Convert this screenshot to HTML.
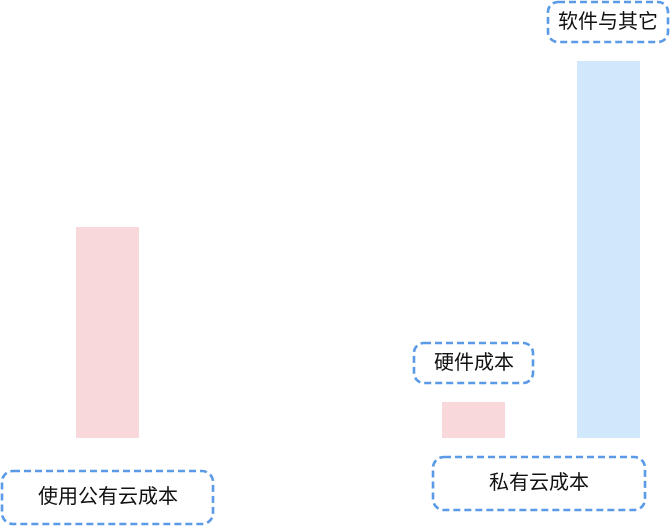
<!DOCTYPE html>
<html><head><meta charset="utf-8"><style>
body{margin:0;width:670px;height:526px;background:#fff;overflow:hidden}
svg text{font-family:"Liberation Sans","Noto Sans CJK SC",sans-serif;font-size:20px;fill:#111;text-anchor:middle;dominant-baseline:central}
</style></head><body>
<svg width="670" height="526" xmlns="http://www.w3.org/2000/svg">
<rect x="76" y="227" width="63" height="211" fill="#f8d8db"/>
<rect x="442" y="402" width="63" height="36" fill="#f8d8db"/>
<rect x="577" y="61" width="63" height="377" fill="#d1e7fb"/>
<g fill="none" stroke="#5a9ae6" stroke-width="2.6" stroke-dasharray="7 4">
<rect x="548" y="2" width="120" height="40" rx="10"/>
<rect x="414" y="343" width="119" height="40" rx="10"/>
<rect x="2" y="471" width="211" height="53" rx="11"/>
<rect x="433" y="457" width="212" height="53" rx="11"/>
</g>
<text x="608" y="22" font-size="20">软件与其它</text>
<text x="474" y="363" font-size="20">硬件成本</text>
<text x="108" y="497" font-size="20">使用公有云成本</text>
<text x="539" y="483" font-size="20">私有云成本</text>
</svg>
</body></html>
